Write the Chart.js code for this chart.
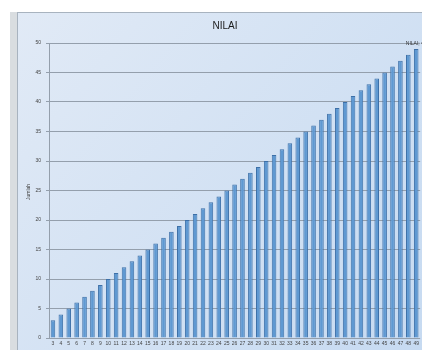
<!DOCTYPE html>
<html>
<head>
<meta charset="utf-8">
<script src="https://cdn.jsdelivr.net/npm/chart.js@4"></script>
<style>
html,body{margin:0;padding:0;background:#fff;}
#wrap{width:422px;height:350px;position:relative;}
</style>
</head>
<body>
<div id="wrap"><canvas id="c" width="422" height="350"></canvas></div>
<script>
const categories = ["3","4","5","6","7","8","9","10","11","12","13","14","15","16","17","18","19","20","21","22","23","24","25","26","27","28","29","30","31","32","33","34","35","36","37","38","39","40","41","42","43","44","45","46","47","48","49"];
const nilaiValues = [3,4,5,6,7,8,9,10,11,12,13,14,15,16,17,18,19,20,21,22,23,24,25,26,27,28,29,30,31,32,33,34,35,36,37,38,39,40,41,42,43,44,45,46,47,48,49];
const yTicks = [0,5,10,15,20,25,30,35,40,45,50];
const seriesName = "NILAI";
const yTitle = "Jumlah";

const bgPlugin = {
  id: 'bg',
  beforeDraw(chart) {
    const ctx = chart.ctx;
    ctx.save();
    ctx.fillStyle = '#ffffff';
    ctx.fillRect(0, 0, 422, 350);
    ctx.fillStyle = '#d9dde0';
    ctx.fillRect(10, 12, 7, 338);
    const g = ctx.createLinearGradient(17, 12, 422, 350);
    g.addColorStop(0, '#e1eaf6');
    g.addColorStop(1, '#c6daf1');
    ctx.fillStyle = g;
    ctx.fillRect(17, 12, 405, 338);
    ctx.strokeStyle = '#a8b3bf';
    ctx.lineWidth = 1;
    ctx.beginPath();
    ctx.moveTo(17, 12.5); ctx.lineTo(422, 12.5);
    ctx.moveTo(17.5, 12); ctx.lineTo(17.5, 350);
    ctx.stroke();
    // title
    ctx.fillStyle = '#1a1a1a';
    ctx.font = '10px "Liberation Sans", Arial, sans-serif';
    ctx.textAlign = 'center';
    ctx.textBaseline = 'middle';
    ctx.fillText(seriesName, 225, 26);
    // y axis title
    ctx.translate(29, 192);
    ctx.rotate(-Math.PI / 2);
    ctx.font = '5px "Liberation Sans", Arial, sans-serif';
    ctx.fillStyle = '#444';
    ctx.fillText(yTitle, 0, 0);
    ctx.restore();
  },
  afterDatasetsDraw(chart) {
    const ctx = chart.ctx;
    const meta = chart.getDatasetMeta(0);
    const last = meta.data[meta.data.length - 1];
    const v = nilaiValues[nilaiValues.length - 1];
    ctx.save();
    ctx.font = '5px "Liberation Sans", Arial, sans-serif';
    ctx.fillStyle = '#333';
    ctx.textAlign = 'center';
    ctx.textBaseline = 'middle';
    ctx.fillText(seriesName + '; ' + v, last.x, last.y - 5);
    ctx.restore();
  }
};

new Chart(document.getElementById('c'), {
  type: 'bar',
  data: {
    labels: categories,
    datasets: [{
      label: seriesName,
      data: nilaiValues,
      backgroundColor: '#5f99d2',
      borderColor: '#3d70a8',
      borderWidth: 1,
      barPercentage: 0.58,
      categoryPercentage: 1.0
    }]
  },
  options: {
    responsive: false,
    animation: false,
    devicePixelRatio: 1,
    layout: { padding: { left: 17, top: 43, right: 1, bottom: 0 } },
    plugins: { legend: { display: false }, title: { display: false }, tooltip: { enabled: false } },
    scales: {
      x: {
        grid: { display: false, drawTicks: false },
        border: { display: false },
        ticks: {
          font: { size: 5, family: '"Liberation Sans", Arial, sans-serif' },
          color: '#444',
          maxRotation: 0, minRotation: 0, autoSkip: false, padding: 3
        },
        afterFit(s) { s.height = 12; }
      },
      y: {
        min: 0, max: 50,
        afterBuildTicks(s) { s.ticks = yTicks.map(v => ({ value: v })); },
        grid: { color: '#949fac', lineWidth: 1, drawTicks: true, tickLength: 3 },
        border: { display: true, color: '#949fac' },
        ticks: {
          font: { size: 5, family: '"Liberation Sans", Arial, sans-serif' },
          color: '#444', padding: 5
        },
        afterFit(s) { s.width = 32; }
      }
    }
  },
  plugins: [bgPlugin]
});
</script>
</body>
</html>
